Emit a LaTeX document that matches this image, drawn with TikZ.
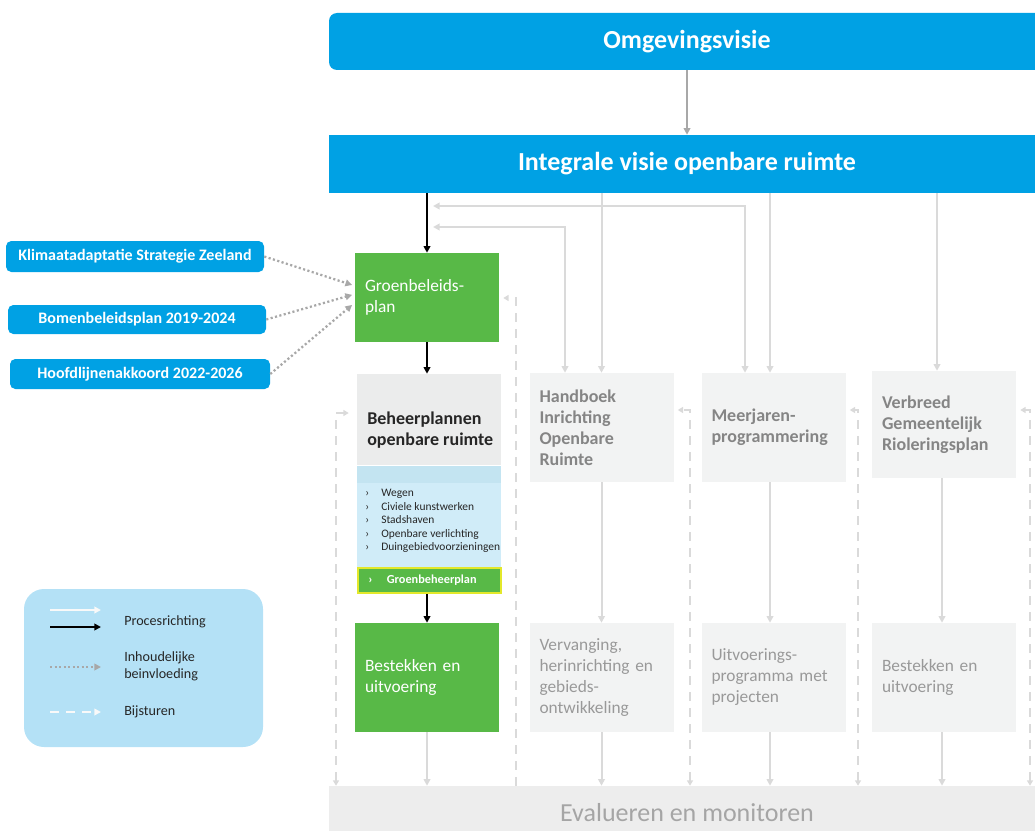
\documentclass[tikz,border=0pt]{standalone}
\usepackage{fontspec}
\setmainfont{Carlito}
\usetikzlibrary{arrows.meta,calc}
\definecolor{vblue}{HTML}{00A1E4}
\definecolor{vgreen}{HTML}{58B947}
\definecolor{boxgray}{HTML}{F2F3F3}
\definecolor{behtop}{HTML}{EBECEC}
\definecolor{bandc}{HTML}{C3E4F1}
\definecolor{listbg}{HTML}{D0ECF8}
\definecolor{legbg}{HTML}{B4E1F6}
\definecolor{gyellow}{HTML}{E3E82A}
\definecolor{coltext}{HTML}{858585}
\definecolor{lowtext}{HTML}{999999}
\definecolor{evalbg}{HTML}{EDEDED}
\definecolor{evaltext}{HTML}{A5A5A5}
\definecolor{darktext}{HTML}{262626}
\definecolor{lgray}{HTML}{DADADA}
\definecolor{mgray}{HTML}{A8A8A8}
\begin{document}
\begin{tikzpicture}[x=0.75pt,y=-0.75pt,
  bluebar/.style={fill=vblue,text=white,font=\fontsize{19.5}{23}\selectfont\bfseries,minimum width=537pt,inner sep=0pt},
  srcbox/.style={fill=vblue,rounded corners=4pt,text=white,font=\fontsize{12}{14}\selectfont\bfseries,inner sep=0pt},
  tbox/.style={align=left,inner ysep=0pt,inner xsep=7.5pt,text width=93pt},
  greenbox/.style={tbox,fill=vgreen,text=white,font=\fontsize{13}{15.75}\selectfont},
  greybox/.style={tbox,fill=boxgray,text=coltext,font=\fontsize{13.5}{15.75}\selectfont\bfseries},
  greyboxlow/.style={tbox,fill=boxgray,text=lowtext,font=\fontsize{13}{15.75}\selectfont},
  plainbox/.style={inner sep=0pt,minimum width=108pt},
  legtext/.style={anchor=west,align=left,inner sep=0pt,text=darktext,font=\fontsize{10.6}{12.8}\selectfont},
  tipa/.style={-{Triangle[length=5pt,width=5pt]}},
  blk/.style={tipa,draw=black,line width=1.8pt},
  gry/.style={tipa,draw=lgray,line width=1.5pt},
  gry2/.style={{Triangle[length=5pt,width=5pt]}-{Triangle[length=5pt,width=5pt]},draw=lgray,line width=1.5pt},
  dsh/.style={draw=lgray,line width=1.6pt,dash pattern=on 6.5pt off 5.5pt},
  dotl/.style={draw=mgray,line width=1.7pt,dash pattern=on 1.6pt off 1.8pt,-{Triangle[length=5pt,width=5pt]}}
]
\useasboundingbox (0,0) rectangle (1035,831);
\clip (0,0) rectangle (1035,831);

% top bars
\node[bluebar,rounded corners=6pt,minimum height=42.75pt] (omg) at (687,41.5) {Omgevingsvisie};
\node[bluebar,minimum height=43.5pt] (int) at (687,164) {Integrale visie openbare ruimte};

% source boxes
\node[srcbox,minimum width=193.5pt,minimum height=23.25pt] (src1) at (135,256.5) {Klimaatadaptatie Strategie Zeeland};
\node[srcbox,minimum width=193.5pt,minimum height=21.75pt] (src2) at (137,319.5) {Bomenbeleidsplan 2019-2024};
\node[srcbox,minimum width=195pt,minimum height=22.5pt] (src3) at (140,374) {Hoofdlijnenakkoord 2022-2026};

% column 1
\node[greenbox,minimum height=66.75pt] (groen) at (427,297.5) {Groenbeleids-\\plan};
\node[plainbox,fill=behtop,minimum height=68.25pt] (beheer) at (429,419.5) {};
\node[anchor=west,align=left,inner sep=0pt,text=darktext,font=\fontsize{13.5}{15.75}\selectfont\bfseries] (behtxt) at (367,430) {Beheerplannen\\openbare ruimte};
\node[plainbox,fill=bandc,minimum height=12.75pt,anchor=north] (band) at (beheer.south) {};
\node[plainbox,fill=listbg,minimum height=63pt,anchor=north] (list) at (band.south) {};
\node[anchor=west,align=left,inner sep=0pt,text=darktext,font=\fontsize{8.6}{10.1}\selectfont] (listtxt) at (365,521)
  {\makebox[12pt][l]{›}Wegen\\\makebox[12pt][l]{›}Civiele kunstwerken\\\makebox[12pt][l]{›}Stadshaven\\\makebox[12pt][l]{›}Openbare verlichting\\\makebox[12pt][l]{›}Duingebiedvoorzieningen};
\node[fill=vgreen,draw=gyellow,line width=1.2pt,minimum width=107.5pt,minimum height=19pt,inner sep=0pt] (gbp) at (429.5,580.5) {};
\node[anchor=west,inner sep=0pt,text=white,font=\fontsize{9.2}{11}\selectfont\bfseries] (gbptxt) at (368,580.5) {\makebox[14pt][l]{›}Groenbeheerplan};
\node[greenbox,minimum height=81.75pt] (best1) at (427,677.5) {Bestekken en\\uitvoering};

% other columns
\node[greybox,minimum height=81.75pt] (hand) at (601.5,427.5) {Handboek\\Inrichting\\Openbare\\Ruimte};
\node[greybox,minimum height=81.75pt] (meer) at (773.5,427.5) {Meerjaren-\\programmering};
\node[greybox,minimum height=80.25pt] (verb) at (944,424.5) {Verbreed\\Gemeentelijk\\Rioleringsplan};
\node[greyboxlow,minimum height=81.75pt] (verv) at (601.5,677.5) {Vervanging,\\herinrichting en\\gebieds-\\ontwikkeling};
\node[greyboxlow,minimum height=81.75pt] (uitv) at (773.5,677.5) {Uitvoerings-\\programma met\\projecten};
\node[greyboxlow,minimum height=81.75pt] (best4) at (944,677.5) {Bestekken en\\uitvoering};

% bottom bar
\node[fill=evalbg,minimum width=537pt,minimum height=40.5pt,inner sep=0pt,text=evaltext,font=\fontsize{19.5}{23}\selectfont] (eval) at (687,813) {Evalueren en monitoren};

% legend
\node[fill=legbg,rounded corners=15pt,minimum width=179.25pt,minimum height=118.5pt,inner sep=0pt] (legend) at (143.5,668) {};
\node[legtext] (lt1) at (124,622) {Procesrichting};
\node[legtext] (lt2) at (124,666.5) {Inhoudelijke\\beinvloeding};
\node[legtext] (lt3) at (124,712) {Bijsturen};
\coordinate (l1a) at (50,610); \coordinate (l1b) at (101,610);
\coordinate (l2a) at (50,627); \coordinate (l2b) at (101,627);
\coordinate (l3a) at (50,667); \coordinate (l3b) at (101,667);
\coordinate (l4a) at (50,712); \coordinate (l4b) at (101,712);
\draw[gry,draw=white!95!gray] (l1a) -- (l1b);
\draw[blk] (l2a) -- (l2b);
\draw[dotl] (l3a) -- (l3b);
\draw[dsh,draw=white!95!gray,tipa] (l4a) -- (l4b);

% process arrows
\draw[tipa,draw=mgray,line width=1.5pt] (omg) -- (int);
\draw[blk] (int.south -| groen.north) -- (groen.north);
\draw[blk] (groen.south) -- (groen.south |- beheer.north);
\draw[blk] (gbp.south -| best1.north) -- (best1.north);

\coordinate (mx) at ($(meer.north)+(-3.5,0)$);
\coordinate (vx) at ($(verb.north)+(-7,0)$);
\coordinate (hl) at ($(hand.north)+(-36.5,0)$);
\coordinate (ml) at ($(meer.north)+(-28.5,0)$);
\coordinate (fb1) at (433,227);
\coordinate (fb2) at (433,206);
\draw[gry] (int.south -| hand.north) -- (hand.north);
\draw[gry] (int.south -| mx) -- (mx);
\draw[gry] (int.south -| vx) -- (vx);
\draw[gry2] (fb1) -| (hl);
\draw[gry2] (fb2) -| (ml);

\draw[gry] (hand.south) -- (verv.north);
\draw[gry] (meer.south -| mx) -- (uitv.north -| mx);
\draw[gry] ($(verb.south)+(-2,0)$) -- ($(best4.north)+(-2,0)$);

\draw[gry] (best1.south) -- (best1.south |- eval.north);
\draw[gry] (verv.south) -- (verv.south |- eval.north);
\draw[gry] (uitv.south -| mx) -- (eval.north -| mx);
\draw[gry] ($(best4.south)+(-2,0)$) -- ($(best4.south |- eval.north)+(-2,0)$);

% influence arrows
\draw[dotl] (src1.east) -- ([yshift=9.4pt,xshift=-2pt]groen.west);
\draw[dotl] (src2.east) -- ([yshift=2pt,xshift=-2pt]groen.west);
\draw[dotl] (src3.east) -- ([yshift=-5.6pt,xshift=-2pt]groen.west);

% steering (dashed)
\coordinate (d1) at (336,413);
\coordinate (d2) at (516,298);
\coordinate (d3) at (690,410);
\coordinate (d4) at (858,410);
\coordinate (d5) at (1030,410);
\draw[dsh,{Triangle[length=4pt,width=4.5pt]}-{Triangle[length=4pt,width=4.5pt]},shorten >=6pt] (d1 |- eval.north) -- (d1) -- (beheer.west |- d1);
\draw[dsh,-{Triangle[length=4pt,width=4.5pt]},shorten >=3pt] (d2 |- eval.north) -- (d2) -- (groen.east |- d2);
\draw[dsh,{Triangle[length=4pt,width=4.5pt]}-{Triangle[length=4pt,width=4.5pt]},shorten >=3pt] (d3 |- eval.north) -- (d3) -- (hand.east |- d3);
\draw[dsh,{Triangle[length=4pt,width=4.5pt]}-{Triangle[length=4pt,width=4.5pt]},shorten >=3pt] (d4 |- eval.north) -- (d4) -- (meer.east |- d4);
\draw[dsh,{Triangle[length=4pt,width=4.5pt]}-{Triangle[length=4pt,width=4.5pt]},shorten >=3pt] (d5 |- eval.north) -- (d5) -- (verb.east |- d5);
\end{tikzpicture}
\end{document}
